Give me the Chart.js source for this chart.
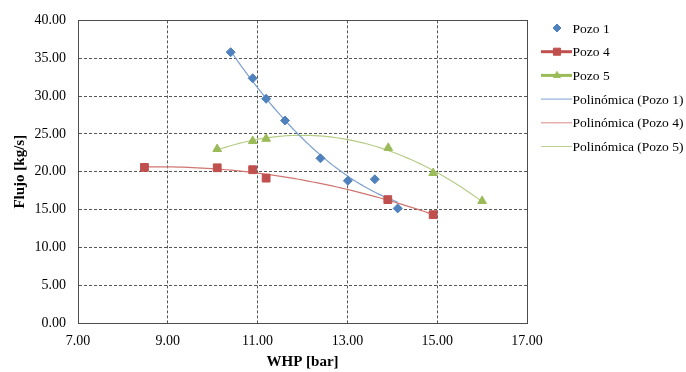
<!DOCTYPE html>
<html>
<head>
<meta charset="utf-8">
<script src="https://cdn.jsdelivr.net/npm/chart.js@4.4.1/dist/chart.umd.min.js"></script>
<style>
  html, body { margin: 0; padding: 0; background: #fff; }
  #wrap { width: 686px; height: 372px; }
</style>
</head>
<body>
<div id="wrap"><canvas id="js-flujo__chart" width="686" height="372"></canvas></div>
<script>
// Measured wells: WHP [bar] vs flow [kg/s]
const pozo1X = [10.40, 10.89, 11.19, 11.61, 12.40, 13.01, 13.61, 14.12];
const pozo1Y = [35.80, 32.35, 29.64, 26.76, 21.77, 18.80, 19.00, 15.15];

const pozo4X = [8.48, 10.10, 10.89, 11.19, 13.90, 14.91];
const pozo4Y = [20.57, 20.52, 20.26, 19.15, 16.31, 14.32];

const pozo5X = [10.10, 10.89, 11.19, 13.91, 14.91, 16.00];
const pozo5Y = [23.00, 24.05, 24.35, 23.15, 19.83, 16.13];

const xTicks = [7, 9, 11, 13, 15, 17];
const yTicks = [0, 5, 10, 15, 20, 25, 30, 35, 40];

const blue = '#4F81BD';
const red = '#C0504D';
const green = '#9BBB59';
const serif = '"Liberation Serif", "Times New Roman", serif';

function toPoints(xs, ys) {
  return xs.map((x, i) => ({ x: x, y: ys[i] }));
}

// second order least squares fit, sampled over the data range
function polyTrend(xs, ys) {
  let s = [0, 0, 0, 0, 0], t = [0, 0, 0];
  xs.forEach((x, i) => {
    for (let k = 0; k < 5; k++) s[k] += Math.pow(x, k);
    for (let k = 0; k < 3; k++) t[k] += ys[i] * Math.pow(x, k);
  });
  const m = [[s[0], s[1], s[2], t[0]], [s[1], s[2], s[3], t[1]], [s[2], s[3], s[4], t[2]]];
  for (let c = 0; c < 3; c++) {
    for (let r = c + 1; r < 3; r++) {
      const f = m[r][c] / m[c][c];
      for (let k = c; k < 4; k++) m[r][k] -= f * m[c][k];
    }
  }
  const a = [0, 0, 0];
  for (let r = 2; r >= 0; r--) {
    let v = m[r][3];
    for (let k = r + 1; k < 3; k++) v -= m[r][k] * a[k];
    a[r] = v / m[r][r];
  }
  const lo = Math.min(...xs), hi = Math.max(...xs);
  const pts = [];
  for (let i = 0; i <= 60; i++) {
    const x = lo + (hi - lo) * i / 60;
    pts.push({ x: x, y: a[0] + a[1] * x + a[2] * x * x });
  }
  return pts;
}

const legendItems = [
  { label: 'Pozo 1', line: null, point: 'rectRot', color: blue, r: 4 },
  { label: 'Pozo 4', line: red, width: 3, point: 'rect', color: red, r: 5 },
  { label: 'Pozo 5', line: green, width: 3, point: 'triangle', color: green, r: 4 },
  { label: 'Polinómica (Pozo 1)', line: '#7FA2D0', width: 1 },
  { label: 'Polinómica (Pozo 4)', line: '#D98A88', width: 1 },
  { label: 'Polinómica (Pozo 5)', line: '#BCD195', width: 1 }
];

// frame around the plot area plus the legend on the right
const framePlugin = {
  id: 'frame',
  beforeDatasetsDraw(chart) {
    const { ctx, chartArea: a } = chart;
    ctx.save();
    ctx.strokeStyle = '#4d4d4d';
    ctx.lineWidth = 1;
    ctx.strokeRect(Math.round(a.left) + 0.5, Math.round(a.top) + 0.5,
      Math.round(a.right - a.left), Math.round(a.bottom - a.top));
    ctx.restore();
  },
  afterDraw(chart) {
    const ctx = chart.ctx;
    ctx.save();
    ctx.font = '13.5px ' + serif;
    ctx.textBaseline = 'middle';
    legendItems.forEach((it, i) => {
      const y = 28 + i * 23.7;
      if (it.line) {
        ctx.strokeStyle = it.line;
        ctx.lineWidth = it.width;
        ctx.beginPath();
        ctx.moveTo(541, y);
        ctx.lineTo(572, y);
        ctx.stroke();
      }
      if (it.point) {
        ctx.fillStyle = it.color;
        ctx.strokeStyle = it.color;
        ctx.lineWidth = 1;
        Chart.helpers.drawPoint(ctx, { pointStyle: it.point, radius: it.r, rotation: 0, borderWidth: 1 }, 557, y);
      }
      ctx.fillStyle = '#000';
      ctx.fillText(it.label, 572.5, y + 1);
    });
    ctx.restore();
  }
};

const gridStyle = {
  color: '#555',
  lineWidth: 1,
  drawTicks: false
};

const flujoConfig = {
  type: 'scatter',
  data: {
    datasets: [
      {
        label: 'Pozo 1',
        data: toPoints(pozo1X, pozo1Y),
        pointStyle: 'rectRot',
        pointRadius: 4.5,
        backgroundColor: blue,
        borderColor: blue,
        showLine: false,
        order: 1
      },
      {
        label: 'Pozo 4',
        data: toPoints(pozo4X, pozo4Y),
        pointStyle: 'rect',
        pointRadius: 5.5,
        backgroundColor: red,
        borderColor: red,
        showLine: false,
        order: 1
      },
      {
        label: 'Pozo 5',
        data: toPoints(pozo5X, pozo5Y),
        pointStyle: 'triangle',
        pointRadius: 5,
        backgroundColor: green,
        borderColor: green,
        showLine: false,
        order: 1
      },
      {
        label: 'Polinómica (Pozo 1)',
        data: polyTrend(pozo1X, pozo1Y),
        showLine: true,
        pointRadius: 0,
        borderColor: '#7FA2D0',
        borderWidth: 1.2,
        order: 2
      },
      {
        label: 'Polinómica (Pozo 4)',
        data: polyTrend(pozo4X, pozo4Y),
        showLine: true,
        pointRadius: 0,
        borderColor: '#D07672',
        borderWidth: 1.2,
        order: 2
      },
      {
        label: 'Polinómica (Pozo 5)',
        data: polyTrend(pozo5X, pozo5Y),
        showLine: true,
        pointRadius: 0,
        borderColor: '#B5CD85',
        borderWidth: 1.2,
        order: 2
      }
    ]
  },
  options: {
    responsive: false,
    animation: false,
    layout: { padding: { top: 13, right: 159, left: 0, bottom: 0 } },
    plugins: {
      legend: { display: false },
      tooltip: { enabled: false }
    },
    scales: {
      x: {
        type: 'linear',
        min: 7,
        max: 17,
        afterBuildTicks: (scale) => { scale.ticks = xTicks.map(v => ({ value: v })); },
        afterFit: (scale) => { scale.height = 49; },
        grid: { ...gridStyle },
        // border.dash also dashes the grid lines in v4
        border: { display: true, color: '#4d4d4d', dash: [3, 2] },
        ticks: {
          padding: 10,
          color: '#000',
          font: { family: serif, size: 14 },
          callback: (v) => Number(v).toFixed(2)
        },
        title: {
          display: true,
          text: 'WHP [bar]',
          color: '#000',
          font: { family: serif, size: 15, weight: 'bold' },
          padding: { top: 0, bottom: 1 }
        }
      },
      y: {
        type: 'linear',
        min: 0,
        max: 40,
        afterBuildTicks: (scale) => { scale.ticks = yTicks.map(v => ({ value: v })); },
        afterFit: (scale) => { scale.width = 78; },
        grid: { ...gridStyle },
        border: { display: true, color: '#4d4d4d', dash: [3, 2] },
        ticks: {
          padding: 12,
          color: '#000',
          font: { family: serif, size: 14 },
          callback: (v) => Number(v).toFixed(2)
        },
        title: {
          display: true,
          text: 'Flujo [kg/s]',
          color: '#000',
          font: { family: serif, size: 15, weight: 'bold' },
          padding: { top: 11, bottom: 0 }
        }
      }
    }
  },
  plugins: [framePlugin]
};

const flujoChart = new Chart(
  document.getElementById('js-flujo__chart'),
  flujoConfig
);
</script>
</body>
</html>
